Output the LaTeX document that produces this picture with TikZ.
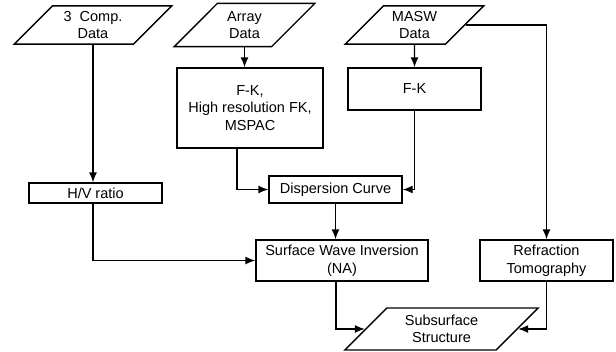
\documentclass[tikz,border=0pt]{standalone}
\usepackage{fontspec}
\setmainfont{Liberation Sans}
\usetikzlibrary{arrows.meta,shapes.geometric}
\tikzset{font=\fontsize{14.5}{17.5}\selectfont}
\tikzset{
  procbox/.style={draw, line width=1.4pt, align=center, inner sep=0pt},
  databox/.style={draw, line width=1.4pt, align=center, inner sep=0pt,
    trapezium, trapezium left angle=45, trapezium right angle=135},
  flow/.style={line width=1.4pt, -{Latex[length=10pt,width=8pt]}},
  link/.style={line width=1.4pt}
}

\begin{document}
\begin{tikzpicture}[x=1pt,y=-1pt]
  \useasboundingbox (0,0) rectangle (616,351);

  % input data
  \node[databox, minimum width=158pt, minimum height=38pt] (comp) at (93,25) {3~ Comp.\\Data};
  \node[databox, minimum width=141pt, minimum height=38pt] (array) at (244.5,25) {Array\\Data};
  \node[databox, minimum width=139pt, minimum height=38pt] (masw) at (414.5,25) {MASW\\Data};

  % processing
  \node[procbox, minimum width=146pt, minimum height=80pt] (fkhr) at (250,108) {F-K,\\High resolution FK,\\MSPAC};
  \node[procbox, minimum width=133pt, minimum height=42pt] (fk) at (414.5,89) {F-K};
  \node[procbox, minimum width=133pt, minimum height=20pt] (hv) at (95.5,193) {H/V ratio};
  \node[procbox, minimum width=133pt, minimum height=27pt] (disp) at (335.5,189.5) {Dispersion Curve};
  \node[procbox, minimum width=172pt, minimum height=41pt] (swi) at (342,260.5) {Surface Wave Inversion\\(NA)};
  \node[procbox, minimum width=133pt, minimum height=41pt] (refr) at (546.5,260.5) {Refraction\\Tomography};

  % result
  \node[databox, minimum width=177pt, minimum height=42pt] (subs) at (441.5,329) {Subsurface\\Structure};

  \draw[flow] (comp.south) -- (comp.south |- hv.north);
  \draw[flow] (array.south) -- (array.south |- fkhr.north);
  \draw[flow] (masw.south) -- (fk.north);
  \draw[flow] ([xshift=-13pt]fkhr.south) |- (disp.west);
  \draw[flow] (fk.south) |- (disp.east);
  \draw[flow] (masw.east) -| (refr.north);
  \draw[flow] (disp.south) -- (disp.south |- swi.north);
  \draw[flow] (hv.south -| comp.south) |- (swi.west);
  \draw[flow] ([xshift=-6pt]swi.south) |- (subs.west);
  \draw[flow] (refr.south) |- (subs.east);
\end{tikzpicture}
\end{document}
